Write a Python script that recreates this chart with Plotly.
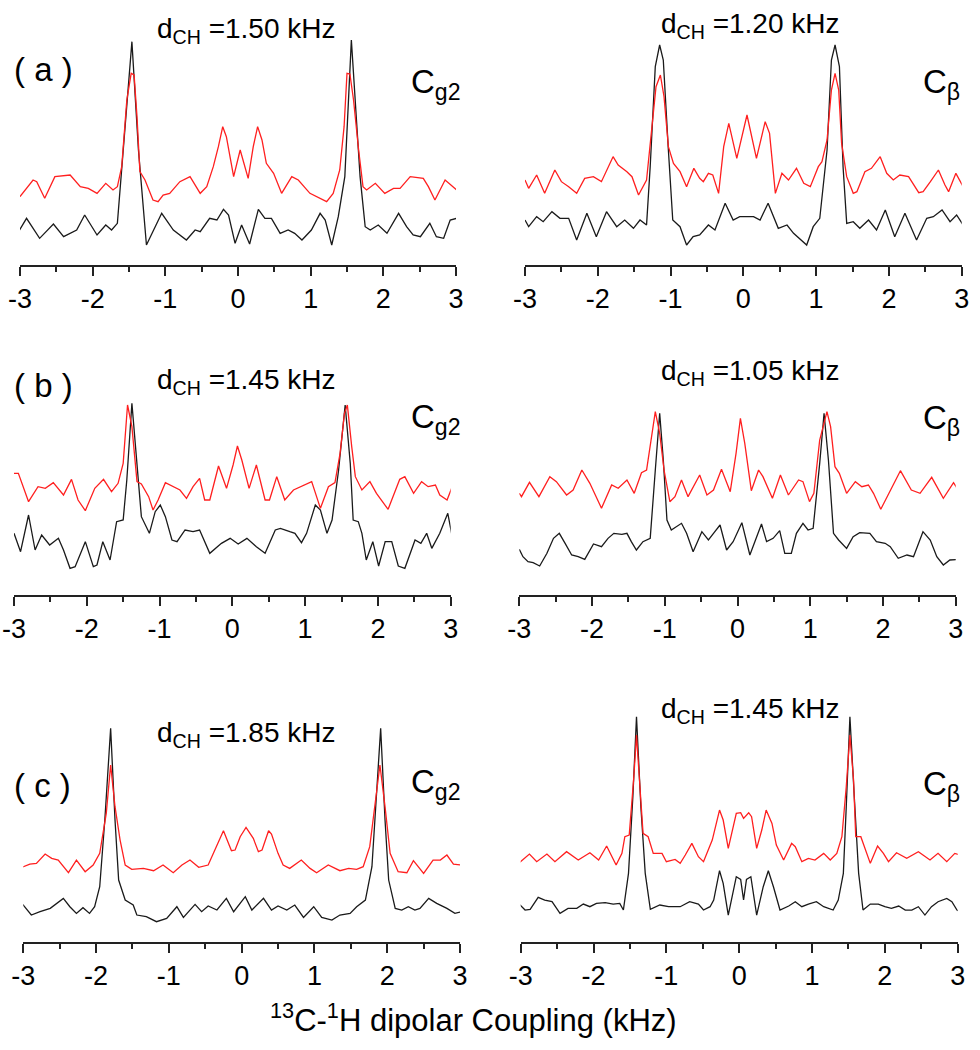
import plotly.graph_objects as go

W, H = 980, 1050

# ---------------- data (x in kHz, intensity in arbitrary units above baseline) ----------------
# Panel (a) C_g2
a_g2_black_x = [-3.02,-2.91,-2.73,-2.54,-2.40,-2.22,-2.11,-1.94,-1.82,-1.74,-1.66,-1.56,-1.46,-1.37,-1.26,-1.05,-0.89,-0.71,-0.59,-0.52,-0.39,-0.29,-0.20,-0.13,-0.04,0.05,0.16,0.28,0.37,0.46,0.58,0.69,0.78,0.88,1.01,1.13,1.20,1.29,1.38,1.47,1.56,1.68,1.75,1.82,1.93,2.05,2.21,2.32,2.41,2.51,2.64,2.73,2.83,2.92,3.01]
a_g2_black_y = [100,140,80,123,85,105,150,90,120,105,125,395,670,345,60,155,105,75,105,100,140,135,167,150,65,120,63,167,140,140,95,105,95,75,105,155,135,60,145,265,675,265,115,105,120,95,155,115,90,85,125,85,80,135,140]
a_g2_red_x = [-3.0,-2.93,-2.82,-2.77,-2.66,-2.52,-2.31,-2.17,-2.06,-1.94,-1.82,-1.72,-1.66,-1.60,-1.53,-1.47,-1.43,-1.39,-1.35,-1.28,-1.17,-1.10,-1.03,-0.94,-0.80,-0.66,-0.52,-0.43,-0.34,-0.27,-0.21,-0.16,-0.06,0.03,0.14,0.21,0.27,0.33,0.39,0.49,0.60,0.74,0.83,0.99,1.08,1.22,1.31,1.40,1.46,1.50,1.54,1.59,1.66,1.72,1.77,1.89,2.02,2.14,2.23,2.37,2.55,2.62,2.71,2.85,3.01]
a_g2_red_y = [205,225,255,250,200,265,270,235,230,215,245,225,235,295,495,575,570,445,280,255,195,190,210,215,250,265,215,235,295,355,415,385,265,345,260,355,415,375,305,275,215,265,255,215,205,190,215,285,415,575,573,495,345,235,225,245,215,230,230,265,260,235,195,255,225]

# Panel (a) C_beta
a_cb_black_x = [-3.0,-2.95,-2.84,-2.75,-2.63,-2.52,-2.40,-2.29,-2.15,-2.02,-1.88,-1.74,-1.63,-1.51,-1.42,-1.33,-1.28,-1.21,-1.15,-1.10,-1.03,-0.97,-0.87,-0.78,-0.69,-0.60,-0.48,-0.39,-0.25,-0.14,-0.05,0.14,0.23,0.34,0.48,0.60,0.69,0.87,0.96,1.05,1.15,1.21,1.26,1.32,1.37,1.42,1.51,1.60,1.72,1.83,1.95,2.08,2.22,2.38,2.52,2.61,2.73,2.84,2.93,3.02]
a_cb_black_y = [135,115,145,130,160,140,140,75,155,85,160,115,135,110,135,120,295,595,660,615,345,135,115,60,85,90,120,105,185,135,145,145,135,185,110,120,95,60,115,140,345,615,660,595,295,125,130,110,135,105,165,85,155,75,140,145,165,130,150,120]
a_cb_red_x = [-3.0,-2.95,-2.84,-2.73,-2.59,-2.50,-2.40,-2.29,-2.18,-2.06,-1.95,-1.85,-1.79,-1.72,-1.60,-1.53,-1.44,-1.33,-1.26,-1.20,-1.14,-1.09,-1.03,-0.96,-0.87,-0.78,-0.68,-0.60,-0.55,-0.48,-0.42,-0.34,-0.27,-0.20,-0.09,0.05,0.18,0.30,0.36,0.44,0.53,0.62,0.73,0.83,0.92,1.03,1.08,1.15,1.21,1.26,1.31,1.35,1.42,1.51,1.56,1.67,1.76,1.88,1.97,2.06,2.15,2.27,2.41,2.47,2.57,2.68,2.77,2.82,2.92,3.02]
a_cb_red_y = [255,230,270,215,285,250,235,215,260,265,250,300,325,300,280,265,210,255,395,535,570,505,355,305,280,235,290,260,250,275,270,215,355,425,320,450,320,430,395,215,275,255,290,245,235,295,310,375,525,575,525,365,265,215,220,280,290,325,275,255,270,265,217,220,250,285,240,220,275,235]

# Panel (b) C_g2
b_g2_black_x = [-3.0,-2.91,-2.80,-2.71,-2.62,-2.51,-2.39,-2.32,-2.23,-2.16,-2.02,-1.91,-1.86,-1.78,-1.68,-1.59,-1.50,-1.45,-1.38,-1.31,-1.25,-1.14,-1.06,-0.99,-0.92,-0.83,-0.76,-0.65,-0.54,-0.45,-0.31,-0.15,-0.03,0.08,0.20,0.33,0.45,0.59,0.66,0.79,0.86,0.95,1.02,1.14,1.21,1.30,1.37,1.46,1.55,1.62,1.66,1.73,1.78,1.84,1.93,2.01,2.10,2.19,2.28,2.37,2.51,2.59,2.67,2.74,2.85,2.96,3.06]
b_g2_black_y = [185,130,240,135,180,150,170,135,80,85,160,85,90,160,105,220,225,345,575,405,235,185,250,270,235,165,160,195,190,195,125,155,170,153,170,145,125,195,200,190,185,157,185,270,255,185,225,375,570,395,225,220,185,105,160,87,160,160,87,80,165,155,185,140,185,245,130]
b_g2_red_x = [-3.0,-2.94,-2.80,-2.67,-2.57,-2.46,-2.32,-2.21,-2.12,-2.02,-1.89,-1.77,-1.66,-1.57,-1.50,-1.44,-1.38,-1.31,-1.25,-1.15,-1.09,-1.02,-0.92,-0.81,-0.72,-0.63,-0.54,-0.45,-0.38,-0.31,-0.19,-0.08,0.01,0.07,0.13,0.23,0.33,0.45,0.51,0.61,0.72,0.84,0.95,1.09,1.21,1.32,1.41,1.48,1.54,1.58,1.64,1.69,1.78,1.89,1.98,2.14,2.30,2.37,2.49,2.60,2.69,2.79,2.85,2.95,3.06]
b_g2_red_y = [365,365,280,325,320,337,300,347,285,253,320,347,310,335,395,570,505,340,333,295,255,285,337,325,315,290,325,350,285,285,387,320,390,447,405,320,390,285,285,355,285,315,325,340,260,325,337,425,545,570,445,355,315,340,305,257,347,355,305,340,325,330,300,285,347]

# Panel (b) C_beta
b_cb_black_x = [-3.0,-2.95,-2.88,-2.81,-2.72,-2.62,-2.53,-2.45,-2.37,-2.28,-2.19,-2.10,-1.98,-1.87,-1.78,-1.70,-1.59,-1.52,-1.46,-1.39,-1.30,-1.20,-1.13,-1.07,-1.02,-0.97,-0.91,-0.77,-0.70,-0.61,-0.49,-0.40,-0.33,-0.24,-0.15,-0.06,0.06,0.17,0.33,0.40,0.49,0.58,0.65,0.74,0.81,0.90,0.97,1.04,1.13,1.19,1.25,1.32,1.39,1.50,1.59,1.68,1.82,1.91,2.03,2.10,2.21,2.33,2.42,2.55,2.65,2.74,2.83,2.92,3.04]
b_cb_black_y = [137,115,100,97,87,125,170,185,155,120,115,107,153,145,170,185,182,185,160,135,160,170,375,545,405,225,195,215,185,130,190,165,185,210,135,160,217,120,213,160,170,193,125,125,185,215,195,200,395,545,405,185,165,140,175,187,185,160,155,145,110,120,115,190,165,115,90,105,107]
b_cb_red_x = [-3.0,-2.97,-2.86,-2.73,-2.58,-2.49,-2.35,-2.26,-2.14,-2.03,-1.87,-1.73,-1.64,-1.52,-1.42,-1.32,-1.25,-1.18,-1.13,-1.07,-1.01,-0.93,-0.86,-0.77,-0.68,-0.52,-0.42,-0.33,-0.22,-0.10,-0.02,0.04,0.10,0.19,0.29,0.35,0.48,0.59,0.70,0.84,0.90,0.99,1.05,1.13,1.23,1.28,1.34,1.40,1.50,1.62,1.71,1.80,1.87,1.97,2.10,2.24,2.39,2.51,2.67,2.76,2.83,2.97,3.04]
b_cb_red_y = [305,295,338,295,355,340,300,315,375,335,260,330,320,345,305,367,375,475,550,485,375,280,295,345,295,360,300,315,377,310,425,530,455,313,375,355,290,360,300,345,340,280,305,465,550,505,385,365,305,340,325,330,305,257,315,373,315,305,353,315,290,337,313]

# Panel (c) C_g2
c_g2_black_x = [-3.02,-2.89,-2.77,-2.63,-2.45,-2.36,-2.27,-2.18,-2.09,-2.02,-1.95,-1.88,-1.80,-1.74,-1.69,-1.60,-1.49,-1.44,-1.31,-1.17,-1.03,-0.89,-0.80,-0.64,-0.55,-0.46,-0.34,-0.21,-0.11,0.05,0.14,0.30,0.41,0.50,0.62,0.73,0.85,0.99,1.10,1.24,1.35,1.49,1.58,1.70,1.79,1.85,1.91,1.97,2.02,2.11,2.20,2.29,2.38,2.45,2.57,2.68,2.82,2.93,3.02]
c_g2_black_y = [115,80,90,100,130,105,85,102,85,105,165,365,640,365,185,125,110,80,75,60,70,105,73,112,90,107,95,130,90,135,95,130,95,107,95,110,73,105,73,65,80,85,105,125,225,435,640,365,185,100,95,105,95,100,130,115,100,85,90]
c_g2_red_x = [-3.02,-2.91,-2.82,-2.70,-2.61,-2.52,-2.38,-2.27,-2.15,-2.04,-1.95,-1.86,-1.80,-1.74,-1.67,-1.60,-1.51,-1.35,-1.21,-1.08,-0.94,-0.82,-0.71,-0.59,-0.46,-0.37,-0.25,-0.14,-0.09,-0.02,0.06,0.16,0.23,0.28,0.37,0.41,0.50,0.57,0.66,0.82,0.94,1.03,1.19,1.35,1.47,1.58,1.67,1.76,1.85,1.90,1.97,2.04,2.15,2.27,2.36,2.43,2.50,2.63,2.73,2.82,2.91,3.02]
c_g2_red_y = [223,233,235,263,250,245,207,245,210,230,265,385,530,405,305,230,217,220,213,230,207,230,245,223,230,275,333,273,275,315,343,310,270,275,333,323,265,230,220,245,220,207,230,213,220,217,225,285,435,530,405,265,210,207,243,225,205,245,245,260,233,230]

# Panel (c) C_beta
c_cb_black_x = [-3.02,-2.94,-2.87,-2.76,-2.67,-2.57,-2.46,-2.35,-2.23,-2.14,-2.05,-1.96,-1.84,-1.73,-1.64,-1.59,-1.52,-1.46,-1.41,-1.35,-1.29,-1.22,-1.09,-0.97,-0.81,-0.68,-0.56,-0.49,-0.40,-0.35,-0.27,-0.22,-0.15,-0.04,0.02,0.06,0.10,0.16,0.24,0.33,0.40,0.47,0.56,0.68,0.77,0.86,0.95,1.06,1.16,1.29,1.36,1.43,1.47,1.52,1.58,1.64,1.70,1.80,1.91,2.00,2.09,2.19,2.28,2.37,2.46,2.55,2.64,2.73,2.85,2.92,2.99,3.03]
c_cb_black_y = [113,95,97,133,125,120,85,100,100,113,105,115,117,113,115,95,205,435,675,405,205,97,110,105,105,120,113,95,105,125,213,175,80,195,187,125,187,195,80,165,213,165,95,107,120,105,113,120,105,95,125,205,405,675,435,205,95,113,113,105,100,107,95,95,105,80,105,120,130,120,95,90]
c_cb_red_x = [-3.02,-2.88,-2.78,-2.64,-2.53,-2.37,-2.21,-2.05,-1.93,-1.82,-1.69,-1.61,-1.57,-1.51,-1.45,-1.41,-1.36,-1.32,-1.25,-1.18,-1.06,-1.00,-0.88,-0.81,-0.74,-0.65,-0.56,-0.49,-0.37,-0.27,-0.22,-0.15,-0.04,0.02,0.06,0.13,0.17,0.24,0.31,0.37,0.45,0.51,0.61,0.72,0.77,0.86,0.95,1.04,1.16,1.25,1.34,1.41,1.47,1.52,1.57,1.60,1.67,1.73,1.80,1.90,1.98,2.05,2.16,2.30,2.46,2.62,2.73,2.85,2.96,3.03]
c_cb_red_y = [237,263,240,263,240,270,245,267,245,287,230,265,315,320,485,620,455,325,315,265,265,240,247,235,260,295,255,240,305,395,365,280,385,387,370,387,375,280,335,395,355,290,245,295,285,240,250,245,265,245,265,315,465,620,485,315,315,275,235,287,265,240,267,250,270,245,265,240,265,260]

# ---------------- text ----------------
row_labels = ["( a )", "( b )", "( c )"]
dch_left = ["1.50", "1.45", "1.85"]
dch_right = ["1.20", "1.05", "1.45"]
site_left = "C<sub>g2</sub>"
site_right = "C<sub>β</sub>"
x_title = "<sup>13</sup>C-<sup>1</sup>H dipolar Coupling (kHz)"
tick_vals = [-3, -2, -1, 0, 1, 2, 3]
tick_text = ["-3", "-2", "-1", "0", "1", "2", "3"]

panels = [
    (a_g2_red_x, a_g2_red_y, a_g2_black_x, a_g2_black_y),
    (a_cb_red_x, a_cb_red_y, a_cb_black_x, a_cb_black_y),
    (b_g2_red_x, b_g2_red_y, b_g2_black_x, b_g2_black_y),
    (b_cb_red_x, b_cb_red_y, b_cb_black_x, b_cb_black_y),
    (c_g2_red_x, c_g2_red_y, c_g2_black_x, c_g2_black_y),
    (c_cb_red_x, c_cb_red_y, c_cb_black_x, c_cb_black_y),
]

# ---------------- layout geometry (pixels) ----------------
geom = [
    (20.0, 456.0, 265.0), (525.0, 961.7, 265.0),
    (14.0, 450.7, 595.0), (519.3, 955.7, 595.0),
    (23.3, 460.0, 941.7), (520.7, 957.7, 941.7),
]
PANEL_H = 240.0
Y_MAX = 720


def px(x):
    return x / W


def py(y):
    return 1 - y / H


FONT = "Arial, 'Liberation Sans', Helvetica, sans-serif"

fig = go.Figure()
layout = dict(
    width=W, height=H,
    margin=dict(l=0, r=0, t=0, b=0),
    paper_bgcolor="white", plot_bgcolor="white",
    showlegend=False,
    font=dict(family=FONT, color="black"),
)

for i, (rx, ry, bx, by) in enumerate(panels):
    n = i + 1
    xa = "x" if n == 1 else f"x{n}"
    ya = "y" if n == 1 else f"y{n}"
    fig.add_trace(go.Scatter(x=bx, y=by, mode="lines", xaxis=xa, yaxis=ya,
                             line=dict(color="#1a1a1a", width=1.3)))
    fig.add_trace(go.Scatter(x=rx, y=ry, mode="lines", xaxis=xa, yaxis=ya,
                             line=dict(color="#ff1f1f", width=1.3)))
    l, r, ay = geom[i]
    xkey = "xaxis" if n == 1 else f"xaxis{n}"
    ykey = "yaxis" if n == 1 else f"yaxis{n}"
    layout[xkey] = dict(
        domain=[px(l), px(r)], anchor=ya, range=[-3, 3],
        showgrid=False, zeroline=False, showline=True, linecolor="#222",
        linewidth=2, ticks="outside", ticklen=9, tickwidth=2, tickcolor="#222",
        tickvals=tick_vals, ticktext=tick_text,
        tickfont=dict(size=27, family=FONT, color="black"),
        minor=dict(dtick=0.5, tick0=0, ticks="outside", ticklen=5, tickwidth=2, tickcolor="#222"),
        automargin=False, fixedrange=True,
    )
    layout[ykey] = dict(
        domain=[py(ay), py(ay - PANEL_H)], anchor=xa, range=[0, Y_MAX],
        visible=False, fixedrange=True,
    )

fig.update_layout(**layout)

ann = []
for (txt, y) in zip(row_labels, [69, 385, 785]):
    ann.append(dict(text=txt, x=px(12), y=py(y), xanchor="left", yanchor="middle",
                    font=dict(size=33)))
for (v, y) in zip(dch_left, [27, 378, 731]):
    ann.append(dict(text=f"d<sub>CH</sub> ={v} kHz", x=px(246), y=py(y + 3),
                    xanchor="center", yanchor="middle", font=dict(size=28)))
for (v, y) in zip(dch_right, [22, 369, 707]):
    ann.append(dict(text=f"d<sub>CH</sub> ={v} kHz", x=px(750), y=py(y + 3),
                    xanchor="center", yanchor="middle", font=dict(size=28)))
for y in [82, 417, 782]:
    ann.append(dict(text=site_left, x=px(463), y=py(y + 2), xanchor="right",
                    yanchor="middle", font=dict(size=33)))
for y in [82, 418, 784]:
    ann.append(dict(text=site_right, x=px(962), y=py(y + 2), xanchor="right",
                    yanchor="middle", font=dict(size=33)))
ann.append(dict(text=x_title, x=px(473), y=py(1018), xanchor="center", yanchor="middle",
                font=dict(size=31)))

for a in ann:
    a.update(xref="paper", yref="paper", showarrow=False)
fig.update_layout(annotations=ann)

fig.write_html("out.html", config={"displayModeBar": False},
               post_script="document.body.style.margin='0px';")
